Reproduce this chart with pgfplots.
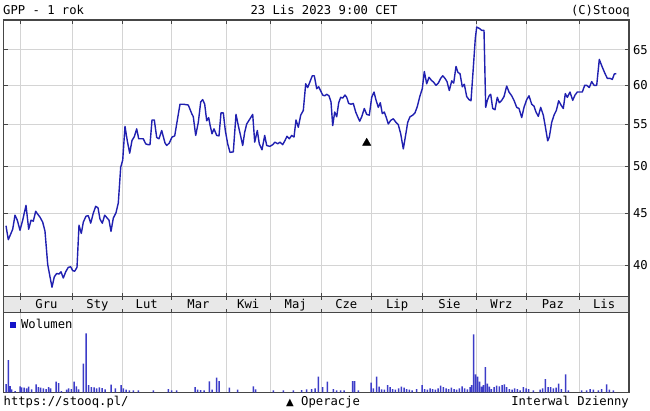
\documentclass[border=0pt]{standalone}
\usepackage{pgfplots}
\pgfplotsset{compat=1.18}
\usepackage{fontspec}
\setmainfont{DejaVu Sans Mono}
\newfontfamily\symfont{DejaVu Sans}
\newcommand\cf{\fontsize{12.2bp}{14bp}\selectfont}
\definecolor{priceblue}{RGB}{32,32,176}
\definecolor{volblue}{RGB}{60,60,200}
\definecolor{legblue}{RGB}{20,20,200}
\definecolor{gridgray}{RGB}{212,212,212}
\definecolor{framegray}{RGB}{70,70,70}
\definecolor{bandgray}{RGB}{232,232,232}

\begin{document}
\begin{tikzpicture}
\useasboundingbox (0,0) rectangle (650bp,411bp);
\fill[white] (0,0) rectangle (650bp,411bp);

% ---------------- price panel ----------------
\begin{axis}[
  at={(3.5bp,114.3bp)}, anchor=south west,
  width=625.5bp, height=276.7bp, scale only axis,
  xmin=3.5, xmax=629,
  ymode=log, ymin=37.3, ymax=69.5,
  ytick={40,45,50,55,60,65},
  yticklabels={40,45,50,55,60,65},
  xtick={20.7,72.4,122.5,171,226,270.5,321,371.7,422.5,476.5,526.5,579.3},
  xticklabels={},
  xmajorgrids, ymajorgrids,
  grid style={line width=0.9bp, gridgray},
  tick style={framegray, line width=0.8bp},
  major tick length=4bp,
  tick align=inside,
  xtick pos=both, ytick pos=both, yticklabel pos=right,
  axis line style={framegray, line width=1.1bp},
  yticklabel style={font=\cf, anchor=west, xshift=0.5bp},
  /pgf/number format/assume math mode=true,
  clip=true,
]
\addplot[priceblue, line width=1.4bp, line join=round] table {
x y
6.0 43.75
8.3 42.4
12.7 43.4
15.0 44.8
17.3 44.3
20.0 43.3
22.7 44.3
26.0 45.8
28.7 43.4
31.0 44.3
33.3 44.2
35.7 45.2
37.7 44.9
40.0 44.6
42.7 44.1
45.0 43.2
47.7 40.1
50.0 39.0
52.0 38.1
54.3 39.0
56.7 39.3
59.0 39.25
61.0 39.45
63.3 38.9
65.7 39.45
68.3 39.85
70.7 39.9
72.7 39.55
74.7 39.5
77.0 39.85
79.0 43.8
81.3 43.0
83.3 44.1
86.0 44.7
88.3 44.75
90.7 44.0
93.3 45.0
95.7 45.7
98.0 45.55
100.0 44.4
102.3 44.0
104.7 44.8
107.3 44.5
109.0 44.3
111.0 43.2
113.3 44.5
116.0 45.05
118.3 46.05
120.7 49.9
122.7 50.7
125.0 54.7
127.3 52.95
129.7 51.5
132.0 53.0
134.3 53.45
136.7 54.4
138.7 53.2
141.0 53.2
143.3 53.2
145.7 52.6
148.0 52.5
150.0 52.5
152.0 55.5
154.3 55.5
156.7 53.35
159.0 53.2
161.7 54.2
165.0 52.7
166.7 52.4
169.3 52.7
172.0 53.4
174.7 53.55
176.7 55.0
180.0 57.5
183.3 57.5
188.3 57.4
191.7 56.3
193.3 55.9
195.7 53.6
198.3 55.2
200.7 57.8
202.7 58.1
204.7 57.5
206.7 55.4
208.7 55.8
210.0 54.9
212.0 53.8
214.0 54.4
216.7 53.6
219.0 53.55
221.0 56.4
223.3 56.4
225.3 54.2
227.7 52.6
230.0 51.6
233.3 51.65
236.0 56.2
238.3 54.8
240.7 53.5
242.7 52.4
244.7 54.0
246.7 55.0
250.0 55.65
252.7 56.2
254.7 52.8
257.3 54.2
259.3 52.6
262.0 51.9
264.7 53.6
266.7 52.4
270.0 52.3
272.7 52.5
275.0 52.8
277.7 52.6
280.0 52.8
282.7 52.5
285.0 53.0
287.0 53.5
289.3 53.2
291.7 53.6
294.0 53.4
296.0 55.5
298.3 54.6
300.7 56.1
303.3 56.7
305.7 60.2
307.7 59.7
310.0 60.5
312.3 61.3
314.3 61.3
316.7 59.55
318.7 59.8
322.7 58.7
324.7 58.6
326.7 58.8
329.0 58.6
331.0 57.8
332.7 54.8
334.7 56.5
336.7 55.9
338.7 57.7
340.7 58.4
342.7 58.3
345.0 58.7
346.7 58.4
348.7 57.6
351.0 57.5
353.3 57.6
355.7 56.5
357.7 55.9
359.7 55.35
361.7 55.9
364.3 56.95
366.7 56.2
369.3 56.1
371.7 58.4
374.0 59.1
376.0 58.05
378.3 57.1
380.3 57.7
382.3 56.3
384.3 56.5
386.3 55.8
388.3 55.0
390.7 55.45
393.3 55.65
396.0 55.2
398.3 54.9
400.7 53.8
403.3 52.0
405.3 53.4
407.7 55.2
410.0 55.9
412.7 56.1
415.0 56.4
417.3 57.2
420.0 58.6
422.3 59.55
424.3 61.9
426.7 60.2
429.0 61.1
431.3 60.7
433.7 60.4
436.0 60.0
438.3 60.3
440.7 60.95
442.7 61.3
445.0 60.95
447.0 60.5
449.3 59.3
451.7 60.6
453.7 60.3
456.0 62.6
458.0 61.75
460.0 61.6
462.3 59.8
464.3 60.15
466.7 58.5
469.0 58.1
471.0 57.95
473.3 62.4
475.3 66.7
476.7 68.4
479.3 68.2
481.7 67.9
484.0 67.9
485.7 57.1
487.3 58.0
489.3 58.65
490.7 58.8
492.7 56.95
495.0 56.8
497.3 58.4
499.3 57.7
501.7 58.0
504.0 58.5
506.7 59.9
509.0 59.1
511.7 58.6
514.0 58.0
516.7 57.1
519.0 56.95
521.7 55.8
524.0 57.1
526.7 58.1
529.0 58.6
531.7 57.5
534.0 57.25
536.0 56.5
538.3 55.95
540.7 57.1
543.3 56.1
545.3 54.7
547.7 52.95
549.3 53.4
551.7 55.2
554.0 56.1
556.3 56.7
558.7 57.95
561.0 57.4
563.3 56.95
565.3 58.9
567.3 58.4
570.0 59.1
572.7 58.0
575.0 58.7
577.3 59.1
580.0 59.1
582.3 59.1
584.7 60.0
586.7 60.0
589.3 59.7
591.7 60.5
594.0 60.0
596.7 60.0
599.3 63.6
602.0 62.6
604.7 61.7
607.3 60.95
610.0 60.95
612.3 60.8
614.3 61.55
616.3 61.6
};
\addplot[only marks, mark=triangle*, mark size=4.8bp, black] coordinates {(366.7,52.7)};
\end{axis}

% ---------------- month band ----------------
\begin{axis}[
  at={(3.5bp,98.7bp)}, anchor=south west,
  width=625.5bp, height=15.6bp, scale only axis,
  xmin=3.5, xmax=629, ymin=0, ymax=1,
  ytick=\empty,
  xtick={20.7,72.4,122.5,171,226,270.5,321,371.7,422.5,476.5,526.5,579.3},
  xticklabels={},
  tick align=inside, xtick pos=both, major tick length=3.5bp,
  tick style={framegray, line width=0.8bp},
  axis line style={framegray, line width=1.1bp},
  axis background/.style={fill=bandgray},
]
\addplot[draw=none] coordinates {(3.5,0) (629,1)};
\node[font=\cf, anchor=base, inner sep=0] at (axis cs:46.5,0.24) {Gru};
\node[font=\cf, anchor=base, inner sep=0] at (axis cs:97.5,0.24) {Sty};
\node[font=\cf, anchor=base, inner sep=0] at (axis cs:146.7,0.24) {Lut};
\node[font=\cf, anchor=base, inner sep=0] at (axis cs:198.5,0.24) {Mar};
\node[font=\cf, anchor=base, inner sep=0] at (axis cs:248.2,0.24) {Kwi};
\node[font=\cf, anchor=base, inner sep=0] at (axis cs:295.7,0.24) {Maj};
\node[font=\cf, anchor=base, inner sep=0] at (axis cs:346.3,0.24) {Cze};
\node[font=\cf, anchor=base, inner sep=0] at (axis cs:397.1,0.24) {Lip};
\node[font=\cf, anchor=base, inner sep=0] at (axis cs:449.5,0.24) {Sie};
\node[font=\cf, anchor=base, inner sep=0] at (axis cs:501.5,0.24) {Wrz};
\node[font=\cf, anchor=base, inner sep=0] at (axis cs:552.9,0.24) {Paz};
\node[font=\cf, anchor=base, inner sep=0] at (axis cs:604.1,0.24) {Lis};
\end{axis}

% ---------------- volume panel ----------------
\begin{axis}[
  at={(3.5bp,18.7bp)}, anchor=south west,
  width=625.5bp, height=80bp, scale only axis,
  xmin=3.5, xmax=629, ymin=0, ymax=80,
  ytick=\empty,
  xtick={20.7,72.4,122.5,171,226,270.5,321,371.7,422.5,476.5,526.5,579.3},
  xticklabels={},
  xmajorgrids,
  grid style={line width=0.9bp, gridgray},
  major tick length=0pt,
  axis line style={framegray, line width=1.1bp},
  legend style={at={(0,1)}, anchor=north west, draw=none, fill=none,
    font=\cf, inner sep=0pt, xshift=6bp, yshift=-5bp,
    /tikz/every odd column/.append style={column sep=3bp}},
  legend image code/.code={\fill[legblue] (0bp,-3.2bp) rectangle (6.4bp,3.2bp);},
]
\addplot[ybar, bar width=1.5bp, fill=volblue, draw=none] coordinates {
(6.0,8.3) (8.3,32.3) (10.0,6.3) (11.7,3) (15.0,1.3) (20.0,6) (21.7,5) (24.0,4.7)
(26.7,4) (28.7,5.7) (31.7,3) (36.0,8) (38.3,5.3) (40.7,4.7) (43.3,4) (46.0,3.3)
(48.7,5.3) (50.7,4) (56.0,10.7) (58.7,9.3) (61.3,1.3) (66.7,2.7) (68.7,4) (71.3,3.3)
(74.0,10.7) (76.3,6) (78.7,3) (83.3,28.7) (86.0,59) (88.7,7.3) (91.3,5.3) (94.0,5)
(96.7,4) (99.3,5) (102.0,4.3) (105.0,3) (111.0,7.7) (115.3,4) (121.0,7.3) (123.3,4)
(126.0,2.7) (129.3,2) (133.3,2) (138.3,2) (153.3,2) (168.3,3.3) (171.7,2) (176.7,2)
(195.0,5.3) (197.7,2.7) (200.7,2.3) (204.0,2) (209.3,11) (212.0,2.7) (216.7,14.7) (219.0,11.3)
(229.3,4.7) (237.7,2.7) (253.3,6) (255.7,3) (273.3,2) (283.3,2) (293.3,2) (301.7,2.3)
(306.7,3) (311.7,3.3) (315.0,4) (318.3,15.7) (322.7,5.3) (327.3,10.7) (333.3,3.3) (336.7,2)
(340.7,2) (344.0,2) (352.7,11.3) (354.7,11.3) (358.3,2) (371.0,9.7) (373.3,4) (376.7,15.7)
(379.0,5.7) (381.7,3) (384.3,2.7) (387.7,7.3) (390.0,5.3) (392.7,3.3) (395.3,2.7) (398.7,4)
(401.3,5.7) (404.0,4.7) (406.7,3.3) (409.3,2.7) (412.0,2) (416.7,3.3) (422.0,7.3) (424.7,3.3)
(427.3,2.7) (430.0,4) (432.7,3.3) (435.3,2.7) (438.0,4) (440.7,6.7) (443.3,5.3) (446.0,4)
(448.7,3.3) (451.3,4.7) (454.0,3.3) (456.7,2.7) (459.3,4) (462.0,6) (464.7,4) (467.3,3)
(470.0,5.3) (471.7,7.3) (473.7,58) (475.7,18) (477.7,15.7) (479.7,10.7) (481.7,5.7) (483.3,7.3)
(485.3,25.3) (487.3,8.7) (489.3,5.7) (491.3,3.3) (494.0,5.3) (496.7,6.7) (499.3,6) (502.0,7.3)
(504.3,8) (506.7,5.3) (509.3,3.3) (512.0,2.7) (514.7,4) (517.3,3.3) (520.0,2) (523.3,5.3)
(526.0,4) (528.7,3.3) (533.3,2) (540.0,2.7) (542.7,4) (545.3,13.3) (548.0,5.3) (550.7,5.3)
(553.3,4) (556.0,4.7) (558.7,8.7) (561.3,3.3) (565.7,18) (568.3,2) (581.7,2) (586.7,2)
(590.0,3.3) (593.3,2.7) (598.3,2) (601.7,3.3) (606.7,8) (609.3,2.7) (613.3,2)
};
\addlegendentry{Wolumen}
\end{axis}

% ---------------- header and footer text ----------------
\node[font=\cf, anchor=base west, inner sep=0] at (3bp,396.5bp) {GPP - 1 rok};
\node[font=\cf, anchor=base, inner sep=0] at (324bp,396.5bp) {23 Lis 2023 9:00 CET};
\node[font=\cf, anchor=base east, inner sep=0] at (630bp,396.5bp) {(C)Stooq};
\node[font=\cf, anchor=base west, inner sep=0] at (3.5bp,6bp) {https://stooq.pl/};
\node[font=\cf, anchor=base west, inner sep=0] at (286bp,6bp) {{\symfont\fontsize{10bp}{12bp}\selectfont ▲} Operacje};
\node[font=\cf, anchor=base east, inner sep=0] at (629bp,6bp) {Interwal Dzienny};
\end{tikzpicture}
\end{document}
